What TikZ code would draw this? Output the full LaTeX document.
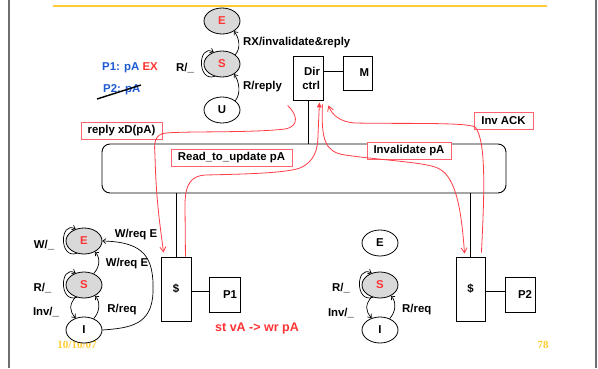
\documentclass[tikz,border=0pt]{standalone}
\usepackage{fontspec}
\setmainfont{Liberation Sans}
\newfontfamily\datefont{Liberation Serif}
\usetikzlibrary{shapes.geometric,arrows.meta,calc}

\definecolor{hilite}{RGB}{255,51,51}
\definecolor{pblue}{RGB}{30,90,210}
\definecolor{gold}{RGB}{255,204,51}
\definecolor{msgred}{RGB}{255,60,70}
\definecolor{tagedge}{RGB}{255,100,110}
\definecolor{stategray}{RGB}{217,217,217}
\definecolor{framegray}{RGB}{110,110,110}

\begin{document}
\begin{tikzpicture}[x=1pt,y=-1pt,
  every node/.style={font=\fontsize{11.4}{14}\selectfont\bfseries},
  state/.style={ellipse,draw,line width=0.8pt,fill=white,minimum width=36pt,minimum height=26pt,inner sep=0pt},
  busy/.style={state,fill=stategray,text=hilite},
  unit/.style={draw,line width=0.9pt,inner sep=0pt},
  wire/.style={line width=0.9pt},
  trans/.style={-{Straight Barb[length=3pt,width=5pt]},line width=0.7pt},
  selfloop/.style={trans,looseness=1},
  msg/.style={msgred,line width=0.8pt,-{Straight Barb[length=5pt,width=6pt]}},
  tag/.style={draw=tagedge,line width=0.9pt,fill=white,inner sep=0pt,minimum height=17pt},
  lbl/.style={inner sep=0pt},
]
\useasboundingbox (0,0) rectangle (598,368);
\fill[white] (0,0) rectangle (598,368);

% page frame and title rule
\draw[framegray,line width=1.5pt] (9,0) -- (9,368);
\draw[framegray,line width=1.5pt] (596,0) -- (596,368);
\draw[gold,line width=2.2pt] (53,6) -- (547,6);

% footer
\node[lbl,text=gold,font=\datefont\fontsize{11}{13}\selectfont\bfseries] (date) at (77,345) {10/10/07};
\node[lbl,text=gold,font=\datefont\fontsize{11}{13}\selectfont\bfseries] (page) at (543,345) {78};

% directory state machine
\node[busy] (tE) at (222,21) {E};
\node[busy] (tS) at (222,64) {S};
\node[state] (tU) at (222,110) {U};
\draw[trans] (tU.35) .. controls +(6,-7) and +(5,7) .. (tS.-40);
\draw[trans] (tS.35) .. controls +(6,-7) and +(5,7) .. (tE.-40);
\draw[selfloop] (tS.240) .. controls +(-18,6) and +(-16,-8) .. (tS.125);
\node[lbl,anchor=west] (lRX) at (243,43) {RX/invalidate\&reply};
\node[lbl,anchor=west] (lRrep) at (243,87) {R/reply};
\node[lbl] (lRt) at (185,68) {R/\_};

% sharer list
\node[lbl,anchor=west,text=pblue] (share1) at (102,68) {P1: pA \textcolor{hilite}{EX}};
\node[lbl,anchor=west,text=pblue] (share2) at (103,90) {P2: pA};
\draw[line width=1.4pt] (97,99) -- (141,85);

% directory and memory
\node[unit,minimum height=44pt,text width=24pt,align=right,inner xsep=3pt] (dir) at (308,78) {Dir\\ctrl};
\node[unit,minimum height=34pt,text width=23pt,align=right,inner xsep=3pt] (mem) at (357.5,73) {M};
\draw[wire] (dir.east |- 0,71) -- (mem.west |- 0,71);

% bus
\node[draw,line width=0.9pt,rounded corners=8pt,minimum width=404pt,minimum height=49pt,inner sep=0pt] (bus) at (304,168.5) {};
\draw[wire] (dir.south) -- (dir.south |- bus.north);

% caches and processors
\node[unit,minimum width=30pt,minimum height=64pt] (c1) at (176,289) {\$};
\node[unit,minimum height=35pt,text width=25pt,align=right,inner xsep=3pt] (p1) at (224.5,294.5) {P1};
\draw[wire] (c1.east |- 0,291) -- (p1.west |- 0,291);
\draw[wire] (c1.north) -- (c1.north |- bus.south);

\node[unit,minimum width=29pt,minimum height=64pt] (c2) at (470.5,289) {\$};
\node[unit,minimum height=35pt,text width=24pt,align=right,inner xsep=3pt] (p2) at (520,294.5) {P2};
\draw[wire] (c2.east |- 0,291) -- (p2.west |- 0,291);
\draw[wire] (c2.north) -- (c2.north |- bus.south);

% P1 cache state machine
\node[busy] (aE) at (84,241) {E};
\node[busy] (aS) at (84,285) {S};
\node[state] (aI) at (84,330) {I};
\draw[selfloop] (aE.240) .. controls +(-18,6) and +(-16,-8) .. (aE.125);
\draw[selfloop] (aS.240) .. controls +(-18,6) and +(-16,-8) .. (aS.125);
\draw[trans] (aS.235) .. controls +(-7,8) and +(-6,-7) .. (aI.125);
\draw[trans] (aI.50) .. controls +(6,-6) and +(6,6) .. (aS.-45);
\draw[trans] (aS.50) .. controls +(6,-6) and +(6,6) .. (aE.-45);
\draw[trans] (aI.east) .. controls (130,328) and (152,325) .. (153,292)
  .. controls (154,258) and (145,242) .. (aE.east);
\node[lbl] (lW) at (44,245) {W/\_};
\node[lbl] (lWq1) at (136,235) {W/req E};
\node[lbl] (lWq2) at (127,264) {W/req E};
\node[lbl] (lRa) at (42.5,288) {R/\_};
\node[lbl] (lInva) at (46,312.5) {Inv/\_};
\node[lbl] (lRqa) at (122,309.5) {R/req};

% P2 cache state machine
\node[state] (bE) at (380,243) {E};
\node[busy] (bS) at (380,285) {S};
\node[state] (bI) at (380,330) {I};
\draw[selfloop] (bS.240) .. controls +(-18,6) and +(-16,-8) .. (bS.125);
\draw[trans] (bS.235) .. controls +(-7,8) and +(-6,-7) .. (bI.125);
\draw[trans] (bI.50) .. controls +(6,-6) and +(6,6) .. (bS.-45);
\node[lbl] (lRb) at (341,288) {R/\_};
\node[lbl] (lInvb) at (341,313.5) {Inv/\_};
\node[lbl,anchor=west] (lRqb) at (402,309.5) {R/req};

\node[lbl,anchor=west,text=hilite,font=\fontsize{12.5}{14}\selectfont\bfseries] (op) at (215,328) {st vA -> wr pA};

% transaction tags
\node[tag,minimum width=81pt] (tReply) at (121.5,130.5) {reply xD(pA)};
\node[tag,minimum width=121pt] (tRtu) at (231.5,158) {Read\_to\_update pA};
\node[tag,minimum width=84pt] (tInv) at (409,150.5) {Invalidate pA};
\node[tag,minimum width=59pt] (tAck) at (503.5,121) {Inv ACK};

% message paths
\coordinate (replyFrom) at ($(dir.south west)+(-5,5)$);
\coordinate (replyTo) at ($(c1.north west)+(3,-4)$);
\coordinate (rtuFrom) at ($(c1.north east)+(-6,0)$);
\coordinate (rtuTo) at ($(dir.south east)+(-4,2)$);
\coordinate (invFrom) at ($(dir.south east)+(-1,4)$);
\coordinate (invTo) at ($(c2.north west)+(9,-3)$);
\coordinate (ackFrom) at ($(c2.north east)+(-4,-4)$);
\coordinate (ackTo) at ($(dir.south east)+(5,5)$);

\draw[msg] (replyFrom) .. controls (296,113) and (301,126) .. (285,129)
  .. controls (250,133) and (190,131) .. (166,133)
  .. controls (154,134) and (154,144) .. (155,155)
  .. controls (156,200) and (160,225) .. (replyTo);
\draw[msg,-{Triangle[length=5pt,width=4.5pt]}] (rtuFrom) -- (185,205)
  .. controls (185,183) and (192,176) .. (205,175)
  .. controls (250,174) and (285,173) .. (300,168)
  .. controls (314,162) and (318,150) .. (318,135) -- (rtuTo);
\draw[msg] (invFrom) .. controls (321,140) and (325,152) .. (345,155)
  .. controls (380,160) and (420,162) .. (435,167)
  .. controls (455,173) and (461,205) .. (invTo);
\draw[msg] (ackFrom) .. controls (484,200) and (487,140) .. (475,127)
  .. controls (466,122) and (400,124) .. (355,123)
  .. controls (340,122) and (332,115) .. (ackTo);
\end{tikzpicture}
\end{document}
